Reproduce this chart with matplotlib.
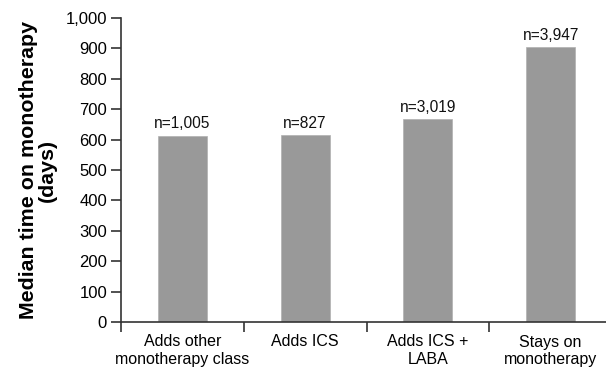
import matplotlib
matplotlib.use("Agg")
import matplotlib.pyplot as plt
import numpy as np

plt.rcParams['font.family'] = ['Liberation Sans', 'DejaVu Sans']

categories = ['Adds other\nmonotherapy class', 'Adds ICS', 'Adds ICS +\nLABA', 'Stays on\nmonotherapy']
median_days = [613, 615, 668, 905]
n_labels = ['n=1,005', 'n=827', 'n=3,019', 'n=3,947']
yticks = [0, 100, 200, 300, 400, 500, 600, 700, 800, 900, 1000]

fig = plt.figure(figsize=(6.06, 3.68), dpi=100)
ax = fig.add_axes([121/606, 46/368, 491/606, 304/368])

x = np.arange(len(categories))
bars = ax.bar(x, median_days, width=0.4, color='#999999', edgecolor='#b0b0b0', linewidth=0.5)

for xi, v, lab in zip(x, median_days, n_labels):
    ax.annotate(lab, xy=(xi, v), xytext=(0, 3), textcoords='offset points',
                ha='center', va='bottom', fontsize=11.2, color='#111111')

ax.set_xlim(-0.5, 3.5)
ax.set_ylim(0, 1000)
ax.set_yticks(yticks)
ax.set_yticklabels([f'{t:,}' for t in yticks], fontsize=12)
ax.set_xticks(x)
ax.set_xticklabels(categories, fontsize=11.5)
ax.set_xticks(np.arange(-0.5, 3.5, 1.0), minor=True)
ax.tick_params(axis='x', which='major', length=0, pad=9)
ax.tick_params(axis='x', which='minor', length=7, width=1.2, color='#333333')
ax.tick_params(axis='y', length=7, width=1.2, color='#333333', pad=3)

for s in ['top', 'right']:
    ax.spines[s].set_visible(False)
for s in ['left', 'bottom']:
    ax.spines[s].set_color('#333333')
    ax.spines[s].set_linewidth(1.2)

fig.text(38/606, 1 - 170/368, 'Median time on monotherapy\n(days)', rotation=90,
         ha='center', va='center', fontsize=15.4, fontweight='bold', linespacing=1.05)

fig.savefig('out.png', dpi=100)
